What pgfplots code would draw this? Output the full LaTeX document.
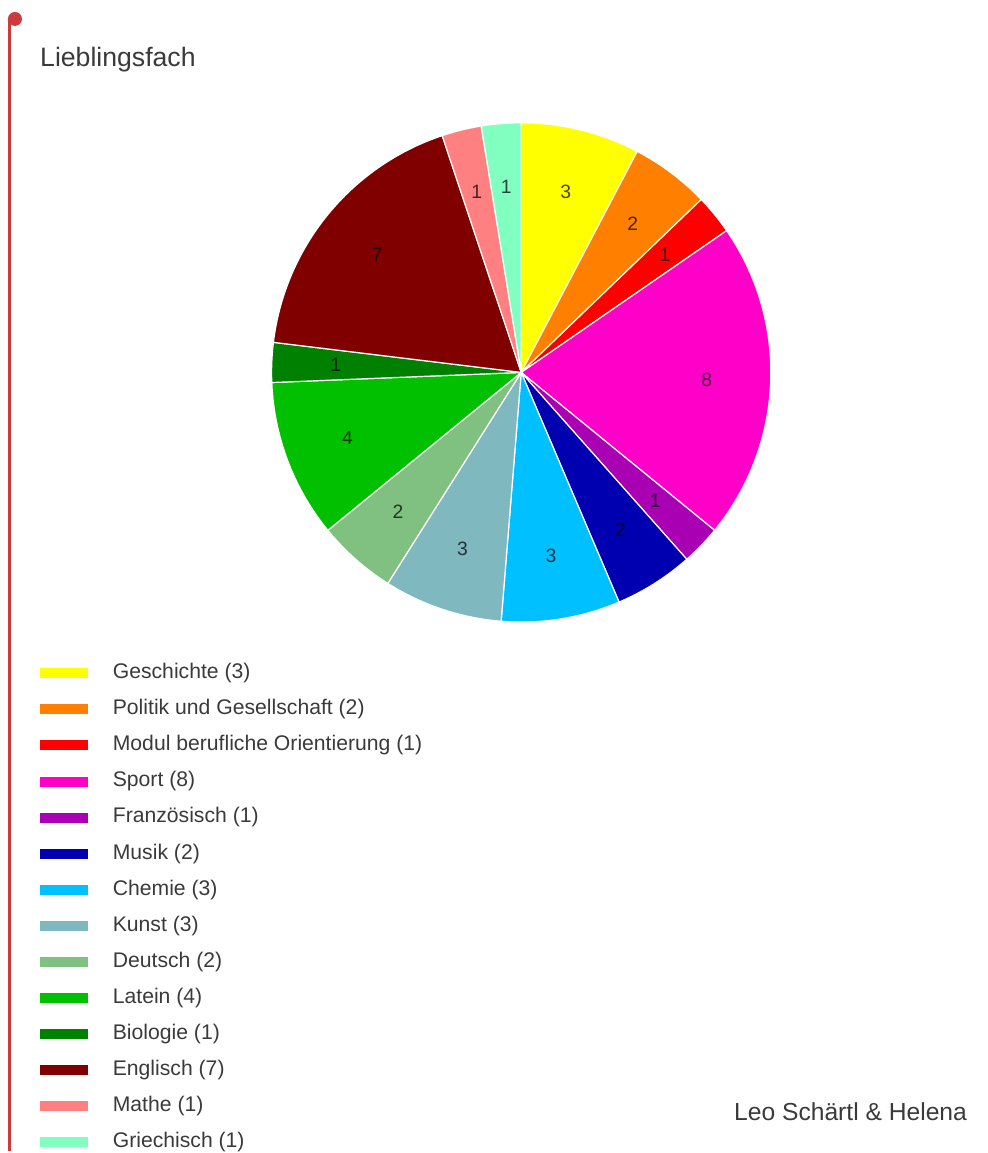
\documentclass[border=0pt]{standalone}
\usepackage{pgfplots}
\pgfplotsset{compat=1.18}
\usepackage{fontspec}
\setmainfont{Liberation Sans}
\definecolor{cGeschichte}{HTML}{FFFF00}
\definecolor{cPolitik}{HTML}{FF8000}
\definecolor{cModul}{HTML}{FF0000}
\definecolor{cSport}{HTML}{FF00C8}
\definecolor{cFranz}{HTML}{AA00B4}
\definecolor{cMusik}{HTML}{0000B0}
\definecolor{cChemie}{HTML}{00C0FF}
\definecolor{cKunst}{HTML}{80B8C0}
\definecolor{cDeutsch}{HTML}{80C080}
\definecolor{cLatein}{HTML}{00C000}
\definecolor{cBiologie}{HTML}{008000}
\definecolor{cEnglisch}{HTML}{800000}
\definecolor{cMathe}{HTML}{FF8080}
\definecolor{cGriechisch}{HTML}{80FFC0}
\definecolor{txt}{HTML}{3A3A3A}
\definecolor{rail}{HTML}{CC3A3E}
% #1 = cumulative count before slice, #2 = value, #3 = colour, #4 = name
\newcommand{\slice}[4]{%
  \addplot[fill=#3, draw=white, line width=0.9pt, domain={90-(#1+#2)*360/39}:{90-#1*360/39}, samples=60, variable=\t]
    ({522+250*cos(\t)},{-373+250*sin(\t)}) -- (axis cs:522,-373) -- cycle;
  \addlegendentry{#4 (#2)}
  \node[text=black, opacity=0.72, font=\fontsize{14.5}{17}\selectfont]
    at (axis cs:{522+186*cos(90-(#1+#2/2)*360/39)},{-373+186*sin(90-(#1+#2/2)*360/39)}) {#2};
}
\begin{document}
\begin{tikzpicture}
\begin{axis}[
  scale only axis,
  width=741.75pt, height=864.75pt,
  xmin=0, xmax=989, ymin=-1153, ymax=0,
  hide axis, clip=false,
  legend image code/.code={\fill[#1, draw=none] (0pt,-3.25pt) rectangle (36pt,4.25pt);},
  legend style={draw=none, fill=none, inner sep=0pt, outer sep=0pt,
    at={(axis cs:40,-665)}, anchor=north west,
    font=\fontsize{15.9}{18}\selectfont, text=txt,
    row sep=12.1pt,
    nodes={inner sep=0pt, text height=11pt, text depth=4pt},
    /tikz/every odd column/.append style={column sep=18.75pt}},
  legend cell align=left,
]
\draw[draw=none] (axis cs:0,0) rectangle (axis cs:989,-1153);
\slice{0}{3}{cGeschichte}{Geschichte}
\slice{3}{2}{cPolitik}{Politik und Gesellschaft}
\slice{5}{1}{cModul}{Modul berufliche Orientierung}
\slice{6}{8}{cSport}{Sport}
\slice{14}{1}{cFranz}{Französisch}
\slice{15}{2}{cMusik}{Musik}
\slice{17}{3}{cChemie}{Chemie}
\slice{20}{3}{cKunst}{Kunst}
\slice{23}{2}{cDeutsch}{Deutsch}
\slice{25}{4}{cLatein}{Latein}
\slice{29}{1}{cBiologie}{Biologie}
\slice{30}{7}{cEnglisch}{Englisch}
\slice{37}{1}{cMathe}{Mathe}
\slice{38}{1}{cGriechisch}{Griechisch}
\draw[rail, line width=2.25pt] (axis cs:10,-18) -- (axis cs:10,-1153);
\fill[rail] (axis cs:15,-19) circle (5.25pt);
\node[anchor=base west, text=txt, font=\fontsize{20}{24}\selectfont, inner sep=0pt] at (axis cs:40,-67) {Lieblingsfach};
\node[anchor=base west, text=txt, font=\fontsize{18.5}{22}\selectfont, inner sep=0pt] at (axis cs:735,-1122) {Leo Schärtl \& Helena};
\end{axis}
\end{tikzpicture}
\end{document}
